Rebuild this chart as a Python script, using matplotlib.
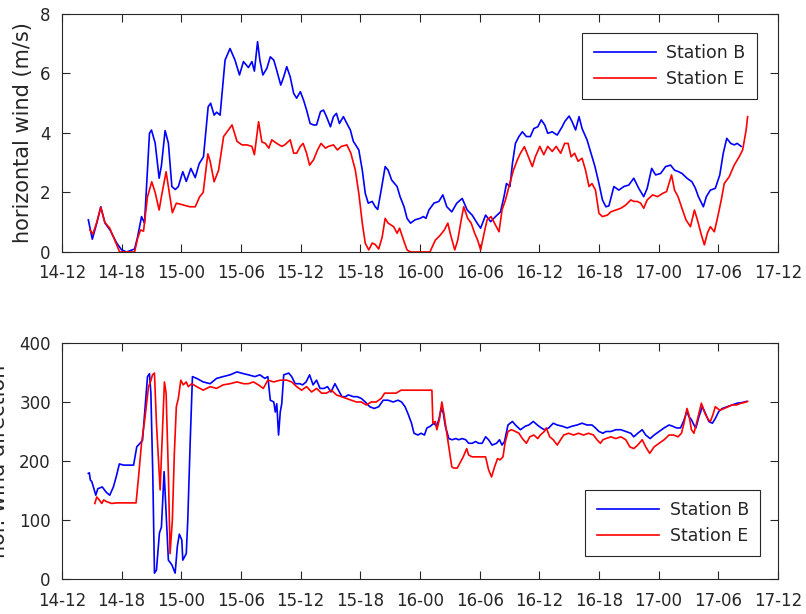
import matplotlib
matplotlib.use("Agg")
import matplotlib.pyplot as plt
import numpy as np

# hours after day 14, 12:00
tick_hours = [0, 6, 12, 18, 24, 30, 36, 42, 48, 54, 60, 66, 72]
tick_labels = ["14-12", "14-18", "15-00", "15-06", "15-12", "15-18", "16-00",
               "16-06", "16-12", "16-18", "17-00", "17-06", "17-12"]

# horizontal wind speed, Station B
t_speed_b = [2.65, 3.05, 3.5, 3.9, 4.33, 4.83, 5.5, 6.0, 6.5, 7.3, 7.6, 8.0, 8.3, 8.8, 9.0,
             9.37, 9.77, 10.0, 10.37, 10.7, 11.05, 11.4, 11.7, 12.15, 12.5, 12.96, 13.4, 13.8,
             14.23, 14.7, 14.95, 15.3, 15.55, 15.9, 16.25, 16.4, 16.9, 17.4, 17.85, 18.25,
             18.75, 19.1, 19.35, 19.67, 19.9, 20.2, 20.6, 20.95, 21.3, 21.6, 22.0, 22.3, 22.6,
             22.95, 23.3, 23.6, 23.97, 24.3, 24.6, 24.95, 25.3, 25.6, 26.0, 26.3, 26.6, 27.0,
             27.3, 27.6, 27.9, 28.3, 28.65, 29.0, 29.3, 29.85, 30.2, 30.5, 30.8, 31.2, 31.5,
             31.75, 32.1, 32.5, 32.8, 33.15, 33.7, 34.0, 34.4, 34.7, 35.05, 35.5, 36.0, 36.35,
             36.6, 36.9, 37.4, 37.9, 38.3, 38.7, 39.2, 39.7, 40.25, 40.75, 41.25, 41.75, 42.1,
             42.6, 43.1, 43.6, 44.1, 44.45, 44.7, 45.05, 45.3, 45.6, 45.95, 46.3, 46.7, 47.1,
             47.45, 47.85, 48.2, 48.55, 48.85, 49.3, 49.8, 50.3, 50.55, 51.0, 51.3, 51.65,
             52.0, 52.3, 52.8, 53.2, 53.6, 54.0, 54.35, 54.7, 55.0, 55.5, 56.0, 56.5, 57.0,
             57.5, 58.0, 58.5, 58.85, 59.3, 59.7, 60.2, 60.7, 61.2, 61.6, 62.0, 62.35, 62.85,
             63.35, 63.7, 64.0, 64.5, 64.8, 65.2, 65.7, 66.15, 66.5, 66.85, 67.25, 67.6, 67.9,
             68.3]
speed_b = [1.08, 0.43, 0.97, 1.52, 0.97, 0.74, 0.3, 0.07, 0.0, 0.1, 0.5, 1.19, 0.97, 3.99, 4.1,
           3.66, 2.48, 2.9, 4.08, 3.66, 2.2, 2.1, 2.2, 2.7, 2.37, 2.81, 2.5, 2.97,
           3.2, 4.88, 5.0, 4.6, 4.7, 4.6, 5.9, 6.45, 6.84, 6.45, 5.95, 6.4,
           6.2, 6.4, 6.08, 7.07, 6.45, 5.95, 6.17, 6.56, 6.45, 6.1, 5.61, 5.89, 6.23,
           5.89, 5.33, 5.17, 5.39, 5.1, 4.77, 4.32, 4.27, 4.27, 4.72, 4.77, 4.55, 4.21,
           4.55, 4.66, 4.32, 4.55, 4.32, 4.1, 3.72, 3.43, 2.75, 1.97, 1.64, 1.7, 1.52,
           1.43, 2.08, 2.87, 2.75, 2.42, 2.2, 1.86, 1.52, 1.13, 0.97, 1.08, 1.13, 1.19,
           1.13, 1.41, 1.64, 1.7, 1.92, 1.52, 1.35, 1.64, 1.8, 1.41, 1.24, 0.97, 0.8,
           1.24, 1.02, 1.19, 1.35, 1.86, 2.3, 2.2, 2.98, 3.65, 3.88, 4.04, 3.88, 3.88,
           4.15, 4.21, 4.44, 4.27, 3.99, 4.04, 3.93, 4.21, 4.38, 4.57, 4.38, 4.1,
           4.55, 4.15, 3.77, 3.32, 2.87, 2.3, 1.75, 1.52, 1.55, 2.2, 2.08, 2.2, 2.25,
           2.48, 2.14, 1.86, 2.14, 2.81, 2.59, 2.64, 2.87, 2.92, 2.75, 2.7, 2.64, 2.48,
           2.36, 2.14, 1.86, 1.52, 1.86, 2.08, 2.14, 2.59, 3.32, 3.82, 3.65, 3.6, 3.65,
           3.55]

# horizontal wind speed, Station E
t_speed_e = [2.8, 3.1, 3.5, 3.9, 4.3, 4.8, 5.3, 5.8, 7.3, 7.6, 7.9, 8.2, 8.6, 9.03, 9.37, 9.77,
             10.0, 10.47, 10.7, 11.1, 11.5, 12.2, 12.85, 13.4, 13.85, 14.2, 14.67, 14.9, 15.3,
             15.75, 16.25, 17.1, 17.6, 18.1, 18.6, 19.1, 19.35, 19.77, 20.1, 20.45, 20.8, 21.1,
             21.6, 22.1, 22.4, 22.95, 23.3, 23.6, 23.97, 24.25, 24.6, 24.9, 25.3, 25.7, 26.05,
             26.5, 26.8, 27.3, 27.7, 28.1, 28.65, 29.05, 29.5, 29.85, 30.2, 30.5, 30.85, 31.2,
             31.5, 31.85, 32.2, 32.5, 32.8, 33.35, 33.7, 33.95, 34.4, 34.7, 35.05, 37.0, 37.55,
             38.0, 38.45, 38.8, 39.1, 39.5, 39.8, 40.15, 40.4, 40.8, 41.15, 41.5, 41.8, 42.1,
             42.45, 42.75, 43.15, 43.5, 43.95, 44.25, 44.6, 44.95, 45.4, 45.8, 46.1, 46.5, 46.9,
             47.3, 47.6, 48.05, 48.45, 48.85, 49.3, 49.7, 50.15, 50.55, 50.9, 51.2, 51.55, 51.9,
             52.3, 52.65, 53.0, 53.3, 53.65, 54.0, 54.35, 54.85, 55.2, 55.7, 56.2, 56.7, 57.2,
             57.5, 57.85, 58.2, 58.5, 58.85, 59.4, 59.9, 60.4, 60.8, 61.3, 61.6, 61.95, 62.3,
             62.75, 63.2, 63.6, 63.9, 64.25, 64.6, 64.9, 65.2, 65.6, 65.95, 66.3, 66.6, 67.1,
             67.6, 68.1, 68.45, 68.8, 68.95]
speed_e = [0.75, 0.6, 1.0, 1.5, 1.0, 0.8, 0.4, 0.0, 0.0, 0.45, 0.74, 0.7, 1.86, 2.36, 2.0, 1.41,
           1.86, 2.7, 2.2, 1.32, 1.64, 1.58, 1.52, 1.52, 1.86, 2.0, 3.3, 3.05, 2.36,
           2.75, 3.88, 4.27, 3.72, 3.6, 3.6, 3.55, 3.27, 4.38, 3.7, 3.65, 3.49, 3.77,
           3.65, 3.55, 3.6, 3.77, 3.32, 3.32, 3.55, 3.65, 3.32, 2.92, 3.1, 3.43, 3.65,
           3.49, 3.55, 3.6, 3.43, 3.55, 3.6, 3.32, 2.75, 1.97, 0.97, 0.29, 0.07, 0.3,
           0.25, 0.1, 0.5, 1.13, 0.97, 0.85, 0.63, 0.8, 0.35, 0.07, 0.0, 0.0, 0.4,
           0.55, 0.74, 0.97, 0.55, 0.07, 0.4, 1.08, 1.52, 1.13, 0.97, 0.63, 0.4, 0.07,
           0.63, 1.08, 1.19, 0.97, 0.68, 1.41, 1.75, 2.2, 2.75, 3.1, 3.32, 3.54, 3.2,
           2.87, 3.2, 3.55, 3.27, 3.55, 3.38, 3.55, 3.32, 3.65, 3.65, 3.2, 3.32, 3.05,
           3.15, 2.75, 2.2, 2.3, 2.08, 1.3, 1.19, 1.24, 1.35, 1.41, 1.47, 1.58, 1.75,
           1.7, 1.7, 1.64, 1.47, 1.75, 1.92, 1.86, 1.97, 2.03, 2.59, 2.08, 1.86, 1.52,
           1.08, 0.85, 1.41, 1.08, 0.63, 0.24, 0.63, 0.85, 0.68, 1.19, 1.75, 2.3, 2.53,
           2.92, 3.2, 3.43, 4.1, 4.55]

# horizontal wind direction (deg), Station B
t_dir_b = [2.65, 2.75, 2.85, 3.0, 3.4, 3.6, 4.05, 4.45, 4.8, 5.17, 5.45, 5.77, 6.2, 6.7, 7.2,
           7.52, 7.85, 8.1, 8.36, 8.6, 8.8, 8.94, 9.13, 9.3, 9.5, 9.8, 10.0, 10.27, 10.47,
           10.7, 11.05, 11.38, 11.6, 11.8, 12.05, 12.15, 12.5, 12.65, 12.9, 13.12, 13.55,
           14.2, 14.9, 15.55, 16.2, 16.9, 17.6, 18.25, 18.75, 19.4, 19.9, 20.4, 20.7, 20.95,
           21.3, 21.45, 21.6, 21.78, 21.95, 22.1, 22.3, 22.8, 23.1, 23.45, 23.9, 24.2, 24.55,
           24.9, 25.25, 25.6, 25.95, 26.35, 26.7, 27.05, 27.45, 27.8, 28.15, 28.5, 28.8,
           29.3, 29.7, 30.1, 30.5, 30.95, 31.4, 31.85, 32.3, 32.8, 33.3, 33.8, 34.15, 34.5,
           34.8, 35.15, 35.4, 35.8, 36.1, 36.45, 36.7, 37.05, 37.4, 37.65, 37.9, 38.13,
           38.35, 38.55, 38.9, 39.25, 39.6, 39.9, 40.25, 40.6, 40.9, 41.25, 41.6, 41.9,
           42.25, 42.6, 42.9, 43.25, 43.7, 44.0, 44.25, 44.5, 44.85, 45.3, 45.6, 46.1, 46.6,
           46.95, 47.4, 47.8, 48.2, 48.5, 48.95, 49.4, 49.8, 50.3, 50.8, 51.3, 51.8, 52.3,
           52.8, 53.3, 53.65, 54.0, 54.4, 54.7, 55.2, 55.7, 56.2, 56.7, 57.2, 57.5, 57.9,
           58.35, 58.7, 59.15, 59.55, 60.05, 60.55, 61.05, 61.4, 61.8, 62.2, 62.5, 62.85,
           63.05, 63.3, 63.55, 63.75, 64.05, 64.4, 64.7, 65.05, 65.4, 65.7, 66.05, 66.4,
           66.9, 67.4, 67.9, 68.4, 68.85]
dir_b = [179, 180, 168, 165, 142, 153, 156, 147, 142, 156, 173, 195, 193, 193, 193,
         224, 230, 235, 292, 343, 348, 315, 179, 10, 15, 78, 88, 182, 111,
         32, 24, 10, 55, 76, 66, 32, 43, 100, 236, 343, 340,
         334, 331, 340, 343, 346, 351, 348, 346, 343, 346, 340, 343, 303,
         300, 283, 297, 244, 283, 297, 346, 349, 343, 331, 331, 329, 334,
         346, 329, 337, 323, 323, 326, 317, 331, 320, 309, 309, 312,
         309, 309, 306, 300, 292, 289, 292, 303, 303, 300, 303, 300, 292,
         280, 264, 247, 244, 247, 244, 256, 259, 264, 259, 270, 289,
         281, 259, 238, 236, 238, 236, 238, 236, 230, 230, 233, 230,
         230, 241, 236, 227, 230, 236, 227, 233, 261, 267, 261, 253, 259,
         261, 267, 261, 256, 253, 256, 264, 261, 259, 256, 259, 261, 264,
         261, 261, 256, 250, 247, 250, 250, 253, 253, 250, 247, 241, 247,
         253, 244, 238, 244, 250, 256, 261, 259, 256, 256, 267, 284,
         275, 270, 261, 256, 275, 292, 281, 267, 264, 272, 284, 289,
         292, 295, 298, 299, 301]

# horizontal wind direction (deg), Station E
t_dir_e = [3.3, 3.5, 3.75, 4.0, 4.2, 4.5, 5.0, 5.5, 6.2, 6.85, 7.45, 7.7, 8.0, 8.36, 8.7, 8.9,
           9.1, 9.3, 9.5, 9.87, 10.1, 10.3, 10.47, 10.7, 10.87, 11.1, 11.3, 11.5, 11.7,
           11.95, 12.2, 12.5, 12.7, 13.05, 13.55, 14.2, 14.9, 15.55, 16.2, 16.9, 17.6, 18.25,
           18.75, 19.25, 19.75, 20.25, 20.7, 21.3, 21.95, 22.6, 23.1, 23.6, 24.1, 24.6, 25.1,
           25.6, 26.1, 26.6, 27.1, 27.6, 28.1, 28.6, 29.1, 29.6, 30.1, 30.6, 31.1, 31.6,
           32.1, 32.45, 32.95, 33.6, 34.1, 34.6, 35.3, 35.9, 36.6, 37.2, 37.3, 37.55, 37.7,
           37.95, 38.2, 38.4, 38.65, 38.9, 39.2, 39.4, 39.75, 40.0, 40.35, 40.7, 40.9, 41.25,
           41.75, 42.25, 42.6, 42.9, 43.2, 43.5, 43.8, 44.05, 44.35, 44.55, 44.85, 45.2, 45.6,
           45.95, 46.3, 46.7, 47.05, 47.45, 47.85, 48.1, 48.5, 48.7, 49.05, 49.4, 49.8,
           50.15, 50.45, 50.95, 51.45, 51.95, 52.45, 52.95, 53.45, 53.8, 54.15, 54.4, 54.7,
           55.2, 55.7, 56.2, 56.7, 57.1, 57.5, 57.9, 58.35, 58.7, 59.1, 59.55, 60.05, 60.55,
           61.05, 61.5, 61.95, 62.3, 62.55, 62.85, 63.05, 63.3, 63.55, 63.9, 64.3, 64.65,
           65.0, 65.2, 65.45, 65.7, 66.15, 66.6, 67.0, 67.4, 67.85, 68.3, 68.6, 68.95]
dir_e = [128, 139, 134, 128, 134, 131, 128, 129, 129, 129, 129, 173, 230, 275, 326, 334,
         346, 349, 264, 151, 247, 334, 315, 179, 43, 100, 213, 292, 306,
         337, 329, 334, 326, 331, 326, 320, 326, 323, 329, 331, 334, 331,
         331, 334, 329, 323, 337, 334, 337, 337, 334, 326, 320, 326, 317,
         323, 315, 315, 320, 312, 309, 306, 303, 300, 300, 295, 300, 300,
         306, 315, 315, 315, 320, 320, 320, 320, 320, 320, 264, 267, 253,
         270, 300, 281, 253, 224, 190, 188, 188, 196, 207, 221, 210, 207,
         207, 207, 207, 185, 173, 190, 204, 202, 207, 230, 250, 253, 250,
         247, 238, 230, 241, 244, 238, 244, 250, 256, 241, 236, 227,
         236, 244, 247, 244, 247, 244, 247, 244, 236, 230, 236, 238,
         241, 238, 241, 236, 224, 221, 227, 236, 224, 213, 224, 230, 236,
         244, 244, 241, 247, 264, 289, 278, 253, 247, 270, 298, 281,
         270, 267, 278, 292, 286, 289, 292, 295, 295, 298, 299, 301]

text_col = "#262626"
plt.rcParams["font.family"] = "DejaVu Sans"
plt.rcParams["text.color"] = text_col
plt.rcParams["axes.labelcolor"] = text_col
plt.rcParams["xtick.color"] = text_col
plt.rcParams["ytick.color"] = text_col
plt.rcParams["lines.solid_joinstyle"] = "round"

fig = plt.figure(figsize=(8.06, 6.14), dpi=100)
ax1 = fig.add_axes([0.0769, 0.5896, 0.8883, 0.3876])
ax2 = fig.add_axes([0.0769, 0.0570, 0.8883, 0.3844])


def style(ax, ylim, yticks):
    ax.set_xlim(0, 72)
    ax.set_ylim(*ylim)
    ax.set_xticks(tick_hours)
    ax.set_xticklabels(tick_labels)
    ax.set_yticks(yticks)
    ax.tick_params(direction="in", length=6, width=0.8, top=True, right=True,
                   labelsize=12)
    ax.tick_params(axis="x", pad=9)
    ax.tick_params(axis="y", pad=8)
    for sp in ax.spines.values():
        sp.set_color(text_col)
        sp.set_linewidth(0.8)


def add_legend(ax, loc, anchor):
    leg = ax.legend(loc=loc, bbox_to_anchor=anchor, borderaxespad=0,
                    fancybox=False, edgecolor=text_col, fontsize=12.5,
                    handlelength=3.6, handletextpad=0.6, borderpad=0.65,
                    labelspacing=0.45, framealpha=1)
    leg.get_frame().set_linewidth(0.8)


ax1.plot(t_speed_b, speed_b, color="blue", lw=1.2, label="Station B")
ax1.plot(t_speed_e, speed_e, color="red", lw=1.2, label="Station E")
style(ax1, (0, 8), [0, 2, 4, 6, 8])
ax1.set_ylabel("horizontal wind (m/s)", fontsize=15)
ax1.yaxis.set_label_coords(-0.0405, 0.5)
add_legend(ax1, "upper right", (0.9707, 0.92))

ax2.plot(t_dir_b, dir_b, color="blue", lw=1.2, label="Station B")
ax2.plot(t_dir_e, dir_e, color="red", lw=1.2, label="Station E")
style(ax2, (0, 400), [0, 100, 200, 300, 400])
ax2.set_ylabel("hor. wind direction", fontsize=15)
ax2.yaxis.set_label_coords(-0.074, 0.5)
add_legend(ax2, "lower right", (0.975, 0.0975))

fig.savefig("out.png", dpi=100)
